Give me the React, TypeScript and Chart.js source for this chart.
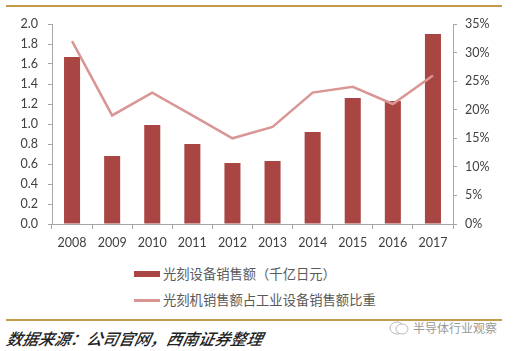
import React, { useEffect, useRef } from "react";
import { Chart, registerables } from "chart.js";

Chart.register(...registerables);

const years = ["2008", "2009", "2010", "2011", "2012", "2013", "2014", "2015", "2016", "2017"];
const salesValues = [1.67, 0.68, 0.99, 0.8, 0.61, 0.63, 0.92, 1.26, 1.23, 1.9];
const shareValues = [32, 19, 23, 19, 15, 17, 23, 24, 21, 26];
const barLabel = "光刻设备销售额（千亿日元）";
const lineLabel = "光刻机销售额占工业设备销售额比重";
const sourceText = "数据来源：公司官网，西南证券整理";
const watermarkText = "半导体行业观察";

const BAR_COLOR = "#A94543";
const LINE_COLOR = "#D99694";
const TEXT_COLOR = "#404040";
const AXIS_COLOR = "#A6A6A6";
const GOLD = "#C39A4E";
const FONT = "Lato, 'Noto Sans CJK SC', sans-serif";

export default function App() {
  const ref = useRef<HTMLCanvasElement | null>(null);

  useEffect(() => {
    if (!ref.current) return;
    const chart = new Chart(ref.current, {
      data: {
        labels: years,
        datasets: [
          {
            type: "line",
            label: lineLabel,
            data: shareValues,
            yAxisID: "y2",
            borderColor: LINE_COLOR,
            backgroundColor: LINE_COLOR,
            borderWidth: 2.5,
            pointRadius: 0,
            tension: 0,
            order: 0,
          },
          {
            type: "bar",
            label: barLabel,
            data: salesValues,
            yAxisID: "y",
            backgroundColor: BAR_COLOR,
            categoryPercentage: 1,
            barPercentage: 0.4,
            order: 1,
          },
        ],
      },
      options: {
        animation: false,
        responsive: false,
        maintainAspectRatio: false,
        layout: { padding: { top: 24, left: 0, right: 0, bottom: 0 } },
        plugins: { legend: { display: false }, tooltip: { enabled: false } },
        scales: {
          x: {
            offset: true,
            grid: {
              offset: true,
              drawOnChartArea: false,
              drawTicks: true,
              tickLength: 5,
              color: AXIS_COLOR,
            },
            border: { color: AXIS_COLOR },
            ticks: { color: TEXT_COLOR, font: { family: FONT, size: 12.5 }, padding: 6, maxRotation: 0 },
            afterFit: (s: any) => {
              s.height = 36;
            },
          },
          y: {
            position: "left",
            min: 0,
            max: 2.0,
            grid: { drawOnChartArea: false, drawTicks: true, tickLength: 4, color: AXIS_COLOR },
            border: { color: AXIS_COLOR },
            ticks: {
              stepSize: 0.2,
              color: TEXT_COLOR,
              font: { family: FONT, size: 12.5 },
              padding: 10,
              callback: (v: any) => Number(v).toFixed(1),
            },
            afterFit: (s: any) => {
              s.width = 52;
            },
          },
          y2: {
            position: "right",
            min: 0,
            max: 35,
            grid: { drawOnChartArea: false, drawTicks: true, tickLength: 4, color: AXIS_COLOR },
            border: { color: AXIS_COLOR },
            ticks: {
              stepSize: 5,
              color: TEXT_COLOR,
              font: { family: FONT, size: 12.5 },
              padding: 8,
              callback: (v: any) => v + "%",
            },
            afterFit: (s: any) => {
              s.width = 60;
            },
          },
        },
      },
    } as any);
    return () => chart.destroy();
  }, []);

  const legendText: React.CSSProperties = {
    position: "absolute",
    left: 163,
    fontFamily: "'Noto Sans CJK SC', sans-serif",
    fontSize: 13.3,
    color: "#595959",
    lineHeight: "16px",
    whiteSpace: "nowrap",
  };

  return (
    <div style={{ position: "absolute", left: 0, top: 0, width: 513, height: 351, background: "#fff", overflow: "hidden" }}>
      <div style={{ position: "absolute", left: 6, top: 5, width: 496, height: 2, background: GOLD }} />
      <canvas ref={ref} width={513} height={260} style={{ position: "absolute", left: 0, top: 0, width: 513, height: 260 }} />
      <div style={{ position: "absolute", left: 134, top: 271, width: 26, height: 6, background: BAR_COLOR }} />
      <div style={{ ...legendText, top: 266 }}>{barLabel}</div>
      <div style={{ position: "absolute", left: 134, top: 299, width: 26, height: 2.5, background: LINE_COLOR }} />
      <div style={{ ...legendText, top: 292 }}>{lineLabel}</div>
      <div style={{ position: "absolute", left: 6, top: 319, width: 496, height: 2, background: GOLD }} />
      <div
        style={{
          position: "absolute",
          left: 7,
          top: 329,
          fontFamily: "'Noto Sans CJK SC', sans-serif",
          fontSize: 16,
          fontStyle: "italic",
          fontWeight: 500,
          color: "#222",
          lineHeight: "18px",
          whiteSpace: "nowrap",
          transform: "skewX(-12deg)",
        }}
      >
        {sourceText}
      </div>
      <svg style={{ position: "absolute", left: 388, top: 320 }} width={22} height={16}>
        <ellipse cx={9} cy={8} rx={7} ry={6} fill="none" stroke="#bbb" strokeWidth={1} />
        <ellipse cx={14} cy={9} rx={6} ry={5} fill="#fff" stroke="#bbb" strokeWidth={1} />
      </svg>
      <div
        style={{
          position: "absolute",
          left: 413,
          top: 320,
          fontFamily: "'Noto Sans CJK SC', sans-serif",
          fontSize: 12,
          color: "#999",
          lineHeight: "16px",
          whiteSpace: "nowrap",
        }}
      >
        {watermarkText}
      </div>
    </div>
  );
}
